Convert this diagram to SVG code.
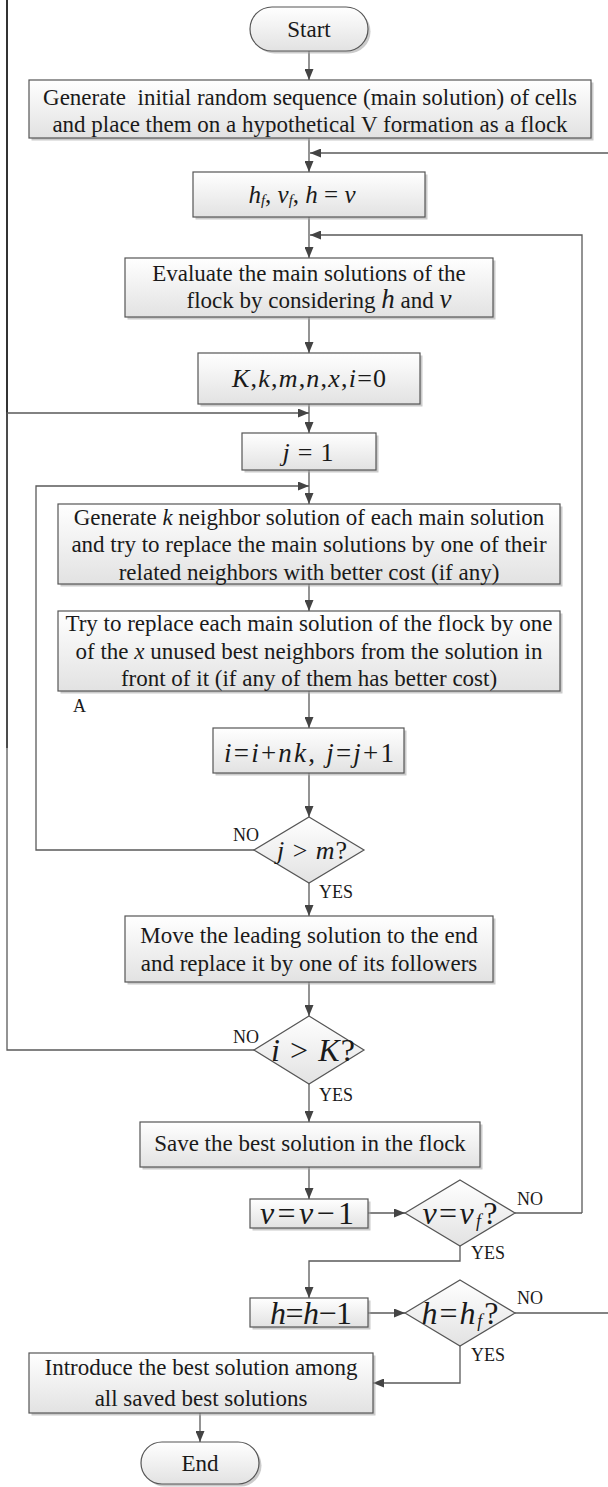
<svg xmlns="http://www.w3.org/2000/svg" width="608" height="1487" viewBox="0 0 608 1487">
<style>
.box{fill:url(#g);stroke:#555;stroke-width:1.2}
.sh{fill:#a8a8a8;opacity:.6}
.t{font-family:"Liberation Serif","Times New Roman",serif;font-size:23px;fill:#1a1a1a;text-anchor:middle}
.m{font-family:"Liberation Serif","Times New Roman",serif;font-style:italic;fill:#1a1a1a;text-anchor:middle}
.u{font-style:normal}
.lab{font-family:"Liberation Serif","Times New Roman",serif;font-size:18px;fill:#1a1a1a}
.ln{fill:none;stroke:#5a5a5a;stroke-width:1.3}
.ar{marker-end:url(#a)}
</style>
<defs>
<linearGradient id="g" x1="0" y1="0" x2="0" y2="1"><stop offset="0" stop-color="#ffffff"/><stop offset="1" stop-color="#e2e2e2"/></linearGradient>
<marker id="a" markerUnits="userSpaceOnUse" markerWidth="11" markerHeight="9" refX="11" refY="4.5" orient="auto"><path d="M0,0 L11,4.5 L0,9 z" fill="#444"/></marker>
</defs>
<rect width="608" height="1487" fill="#fff"/>
<g id="connectors">
<line x1="7" y1="0" x2="7" y2="748" stroke="#333" stroke-width="2"/>
<path class="ln ar" d="M309,51 V80"/>
<path class="ln ar" d="M309,138 V172"/>
<path class="ln ar" d="M608,153 H310"/>
<path class="ln ar" d="M309,217 V258"/>
<path class="ln ar" d="M582,1213 V235 H310"/>
<path class="ln ar" d="M309,317 V353"/>
<path class="ln ar" d="M309,404 V433"/>
<path class="ln ar" d="M256,1050 H7 V413 H309"/>
<path class="ln ar" d="M309,470 V504"/>
<path class="ln ar" d="M254,850 H36 V486 H309"/>
<path class="ln ar" d="M309,584 V611"/>
<path class="ln ar" d="M309,691 V728"/>
<path class="ln ar" d="M309,773 V817"/>
<path class="ln ar" d="M309,883 V916"/>
<path class="ln ar" d="M309,982 V1016"/>
<path class="ln ar" d="M309,1084 V1122"/>
<path class="ln ar" d="M309,1167 V1199"/>
<path class="ln ar" d="M368,1213 H405"/>
<path class="ln" d="M515,1213 H582"/>
<path class="ln ar" d="M460,1246 V1261 H309 V1298"/>
<path class="ln ar" d="M368,1313 H405"/>
<path class="ln" d="M515,1313 H608"/>
<path class="ln ar" d="M460,1345 V1383 H373"/>
<path class="ln ar" d="M200,1413 V1442"/>
</g>
<g id="start">
<rect class="sh" x="252.5" y="9.5" width="118" height="44" rx="22"/>
<rect class="box" x="250" y="7" width="118" height="44" rx="22"/>
<text class="t" x="309" y="37">Start</text>
</g>
<g id="init">
<rect class="sh" x="31.5" y="82.5" width="562" height="58"/>
<rect class="box" x="29" y="80" width="562" height="58"/>
<text class="t" x="310" y="105" xml:space="preserve">Generate  initial random sequence (main solution) of cells</text>
<text class="t" x="310" y="132">and place them on a hypothetical V formation as a flock</text>
</g>
<g id="params">
<rect class="sh" x="195.5" y="174.5" width="232" height="45"/>
<rect class="box" x="193" y="172" width="232" height="45"/>
<text class="m" x="302" y="203" font-size="25">h<tspan font-size="15" dy="2">f</tspan><tspan class="u" dy="-2">, </tspan>v<tspan font-size="15" dy="2">f</tspan><tspan class="u" dy="-2">, </tspan>h<tspan class="u"> = </tspan>v</text>
</g>
<g id="evaluate">
<rect class="sh" x="127.5" y="260.5" width="368" height="59"/>
<rect class="box" x="125" y="258" width="368" height="59"/>
<text class="t" x="309" y="281">Evaluate the main solutions of the</text>
<text class="t" x="319" y="308">flock by considering <tspan font-style="italic" font-size="27">h</tspan> and <tspan font-style="italic" font-size="27">v</tspan></text>
</g>
<g id="init-counters">
<rect class="sh" x="200.5" y="355.5" width="222" height="51"/>
<rect class="box" x="198" y="353" width="222" height="51"/>
<text class="m" x="309" y="387" font-size="26" textLength="154" lengthAdjust="spacing">K<tspan class="u">,</tspan>k<tspan class="u">,</tspan>m<tspan class="u">,</tspan>n<tspan class="u">,</tspan>x<tspan class="u">,</tspan>i<tspan class="u">=0</tspan></text>
</g>
<g id="j-init">
<rect class="sh" x="244.5" y="435.5" width="134" height="37"/>
<rect class="box" x="242" y="433" width="134" height="37"/>
<text class="m" x="308" y="461" font-size="26" textLength="51" lengthAdjust="spacing">j<tspan class="u"> = 1</tspan></text>
</g>
<g id="neighbors">
<rect class="sh" x="60.5" y="506.5" width="502" height="80"/>
<rect class="box" x="58" y="504" width="502" height="80"/>
<text class="t" x="309" y="525">Generate <tspan font-style="italic">k</tspan> neighbor solution of each main solution</text>
<text class="t" x="309" y="552">and try to replace the main solutions by one of their</text>
<text class="t" x="309" y="580">related neighbors with better cost (if any)</text>
</g>
<g id="replace">
<rect class="sh" x="60.5" y="613.5" width="502" height="80"/>
<rect class="box" x="58" y="611" width="502" height="80"/>
<text class="t" x="309" y="631">Try to replace each main solution of the flock by one</text>
<text class="t" x="309" y="659">of the <tspan font-style="italic">x</tspan> unused best neighbors from the solution in</text>
<text class="t" x="309" y="686">front of it (if any of them has better cost)</text>
<text class="lab" x="73" y="712" font-size="20">A</text>
</g>
<g id="update">
<rect class="sh" x="215.5" y="730.5" width="191" height="45"/>
<rect class="box" x="213" y="728" width="191" height="45"/>
<text class="m" x="309" y="762" font-size="27" textLength="170" lengthAdjust="spacing">i<tspan class="u">=</tspan>i<tspan class="u">+</tspan>nk<tspan class="u">, </tspan>j<tspan class="u">=</tspan>j<tspan class="u">+1</tspan></text>
</g>
<g id="j-check">
<polygon class="box" points="309,817 364,850 309,883 254,850"/>
<text class="m" x="312" y="859" font-size="26" textLength="70" lengthAdjust="spacing">j<tspan class="u"> &gt; </tspan>m<tspan class="u">?</tspan></text>
<text class="lab" x="233" y="841">NO</text>
<text class="lab" x="319" y="898">YES</text>
</g>
<g id="move">
<rect class="sh" x="127.5" y="918.5" width="368" height="66"/>
<rect class="box" x="125" y="916" width="368" height="66"/>
<text class="t" x="309" y="943">Move the leading solution to the end</text>
<text class="t" x="309" y="971">and replace it by one of its followers</text>
</g>
<g id="i-check">
<polygon class="box" points="309,1016 364,1050 309,1084 254,1050"/>
<text class="m" x="313" y="1061" font-size="32" textLength="84" lengthAdjust="spacing">i<tspan class="u"> &gt; </tspan>K<tspan class="u">?</tspan></text>
<text class="lab" x="233" y="1043">NO</text>
<text class="lab" x="319" y="1101">YES</text>
</g>
<g id="save">
<rect class="sh" x="142.5" y="1124.5" width="340" height="45"/>
<rect class="box" x="140" y="1122" width="340" height="45"/>
<text class="t" x="310" y="1151">Save the best solution in the flock</text>
</g>
<g id="v-dec">
<rect class="sh" x="252.5" y="1201.5" width="118" height="29"/>
<rect class="box" x="250" y="1199" width="118" height="29"/>
<text class="m" x="307" y="1224" font-size="32" textLength="94" lengthAdjust="spacing">v<tspan class="u">=</tspan>v<tspan class="u">−1</tspan></text>
</g>
<g id="v-check">
<polygon class="box" points="460,1180 515,1213 460,1246 405,1213"/>
<text class="m" x="460" y="1224" font-size="32" textLength="75" lengthAdjust="spacing">v<tspan class="u">=</tspan>v<tspan font-size="18" dy="3">f</tspan><tspan class="u" dy="-3">?</tspan></text>
<text class="lab" x="517" y="1205">NO</text>
<text class="lab" x="471" y="1259">YES</text>
</g>
<g id="h-dec">
<rect class="sh" x="252.5" y="1300.5" width="118" height="29"/>
<rect class="box" x="250" y="1298" width="118" height="29"/>
<text class="m" x="311" y="1324" font-size="32" textLength="82" lengthAdjust="spacing">h<tspan class="u">=</tspan>h<tspan class="u">−1</tspan></text>
</g>
<g id="h-check">
<polygon class="box" points="460,1280 515,1313 460,1346 405,1313"/>
<text class="m" x="460" y="1324" font-size="32" textLength="77" lengthAdjust="spacing">h<tspan class="u">=</tspan>h<tspan font-size="18" dy="3">f</tspan><tspan class="u" dy="-3">?</tspan></text>
<text class="lab" x="517" y="1304">NO</text>
<text class="lab" x="471" y="1361">YES</text>
</g>
<g id="result">
<rect class="sh" x="31.5" y="1355.5" width="344" height="60"/>
<rect class="box" x="29" y="1353" width="344" height="60"/>
<text class="t" x="201" y="1375">Introduce the best solution among</text>
<text class="t" x="201" y="1406">all saved best solutions</text>
</g>
<g id="end">
<rect class="sh" x="143.5" y="1444.5" width="118" height="42" rx="21"/>
<rect class="box" x="141" y="1442" width="118" height="42" rx="21"/>
<text class="t" x="200" y="1471">End</text>
</g>
</svg>
